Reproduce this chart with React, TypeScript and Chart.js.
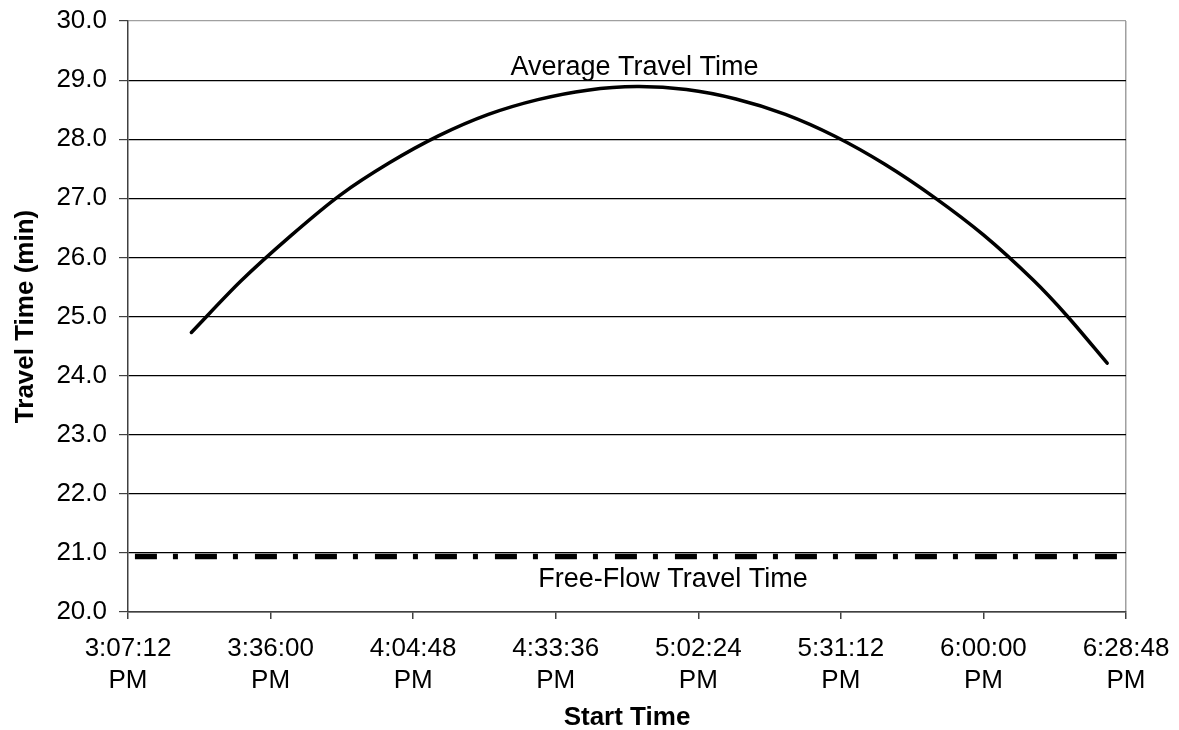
import { useEffect, useRef } from "react";
import { Chart, registerables } from "chart.js";

Chart.register(...registerables);

// start time in minutes after midnight
const startMinutes = [
  920, 930, 940, 950, 960, 970, 980, 990, 1000, 1010, 1020, 1030, 1040, 1050,
  1060, 1070, 1080, 1090, 1097, 1105,
];
const averageTravelTime = [
  24.73, 25.6, 26.36, 27.05, 27.6, 28.06, 28.42, 28.67, 28.83, 28.89, 28.84,
  28.68, 28.42, 28.05, 27.58, 27.02, 26.38, 25.62, 25.0, 24.21,
];

const freeFlowMinutes = [908.6, 1107];
const freeFlowTravelTime = [20.94, 20.94];

// 3:07:12 PM to 6:28:48 PM, every 28:48
const xTickMinutes = [907.2, 936, 964.8, 993.6, 1022.4, 1051.2, 1080, 1108.8];
const yMin = 20;
const yMax = 30;

const averageLabel = { text: "Average Travel Time", x: 1009.5, y: 29.21 };
const freeFlowLabel = { text: "Free-Flow Travel Time", x: 1017.3, y: 20.55 };

const FONT = "'Liberation Sans', Arial, sans-serif";

function formatTime(minutes: number) {
  const total = Math.round(minutes * 60);
  const h = Math.floor(total / 3600);
  const m = Math.floor((total % 3600) / 60);
  const s = total % 60;
  const hour = h > 12 ? h - 12 : h;
  const suffix = h >= 12 ? "PM" : "AM";
  return [
    `${hour}:${String(m).padStart(2, "0")}:${String(s).padStart(2, "0")}`,
    suffix,
  ];
}

const labelPlugin = {
  id: "seriesLabels",
  afterDatasetsDraw(chart: Chart) {
    const { ctx, scales } = chart;
    const x = scales.x;
    const y = scales.y;
    ctx.save();
    ctx.fillStyle = "#000";
    ctx.font = `27px ${FONT}`;
    ctx.textAlign = "center";
    ctx.textBaseline = "middle";
    for (const label of [averageLabel, freeFlowLabel]) {
      ctx.fillText(label.text, x.getPixelForValue(label.x), y.getPixelForValue(label.y));
    }
    ctx.restore();
  },
};

function TravelTimeChart() {
  const chartRef = useRef<HTMLCanvasElement | null>(null);
  const chartInstance = useRef<Chart | null>(null);

  useEffect(() => {
    if (!chartRef.current) return;
    const ctx = chartRef.current.getContext("2d");
    if (!ctx) return;

    if (chartInstance.current) {
      chartInstance.current.destroy();
    }

    chartInstance.current = new Chart(ctx, {
      type: "line",
      data: {
        datasets: [
          {
            label: "Average Travel Time",
            data: startMinutes.map((m, i) => ({ x: m, y: averageTravelTime[i] })),
            borderColor: "#000",
            borderWidth: 3.5,
            pointRadius: 0,
            tension: 0.3,
            borderCapStyle: "round",
          },
          {
            label: "Free-Flow Travel Time",
            data: freeFlowMinutes.map((m, i) => ({ x: m, y: freeFlowTravelTime[i] })),
            borderColor: "#000",
            borderWidth: 5.5,
            borderDash: [22, 16, 5, 17],
            borderCapStyle: "butt",
            pointRadius: 0,
          },
        ],
      },
      options: {
        animation: false,
        responsive: true,
        maintainAspectRatio: false,
        layout: { padding: { top: 21, right: 53, left: 0, bottom: 0 } },
        plugins: {
          legend: { display: false },
          tooltip: { enabled: false },
        },
        scales: {
          x: {
            type: "linear",
            min: xTickMinutes[0],
            max: xTickMinutes[xTickMinutes.length - 1],
            afterBuildTicks: (scale) => {
              scale.ticks = xTickMinutes.map((v) => ({ value: v }));
            },
            afterFit: (scale) => {
              scale.height = 118;
              scale.paddingLeft = 0;
              scale.paddingRight = 0;
            },
            ticks: {
              autoSkip: false,
              maxRotation: 0,
              padding: 14,
              color: "#000",
              font: { family: FONT, size: 26, lineHeight: 1.23 },
              callback: (value) => formatTime(Number(value)),
            },
            grid: {
              color: (c) => (c.index === xTickMinutes.length - 1 ? "#a0a0a0" : "rgba(0,0,0,0)"),
              tickColor: "#404040",
              tickLength: 7,
              lineWidth: 1.5,
            },
            border: { color: "#404040", width: 1.5 },
            title: {
              display: true,
              text: "Start Time",
              color: "#000",
              font: { family: FONT, size: 26, weight: "bold" },
              padding: { top: 0, bottom: -3 },
            },
          },
          y: {
            min: yMin,
            max: yMax,
            afterFit: (scale) => {
              scale.width = 128;
              scale.paddingTop = 0;
              scale.paddingBottom = 0;
            },
            ticks: {
              stepSize: 1,
              padding: 12,
              color: "#000",
              font: { family: FONT, size: 26 },
              callback: (value) => Number(value).toFixed(1),
            },
            grid: {
              color: (c) => (c.tick && c.tick.value === yMax ? "#a0a0a0" : "#000"),
              tickColor: "#404040",
              tickLength: 9,
              lineWidth: 1.2,
            },
            border: { color: "#404040", width: 1.5 },
            title: {
              display: true,
              text: "Travel Time (min)",
              color: "#000",
              font: { family: FONT, size: 26, weight: "bold" },
              padding: { top: 10, bottom: 0 },
            },
          },
        },
      },
      plugins: [labelPlugin],
    });

    return () => {
      if (chartInstance.current) {
        chartInstance.current.destroy();
        chartInstance.current = null;
      }
    };
  }, []);

  return <canvas ref={chartRef} />;
}

export default function App() {
  useEffect(() => {
    document.body.style.margin = "0";
  }, []);

  return (
    <div style={{ width: 1179, height: 730, position: "relative", background: "#fff" }}>
      <TravelTimeChart />
    </div>
  );
}
